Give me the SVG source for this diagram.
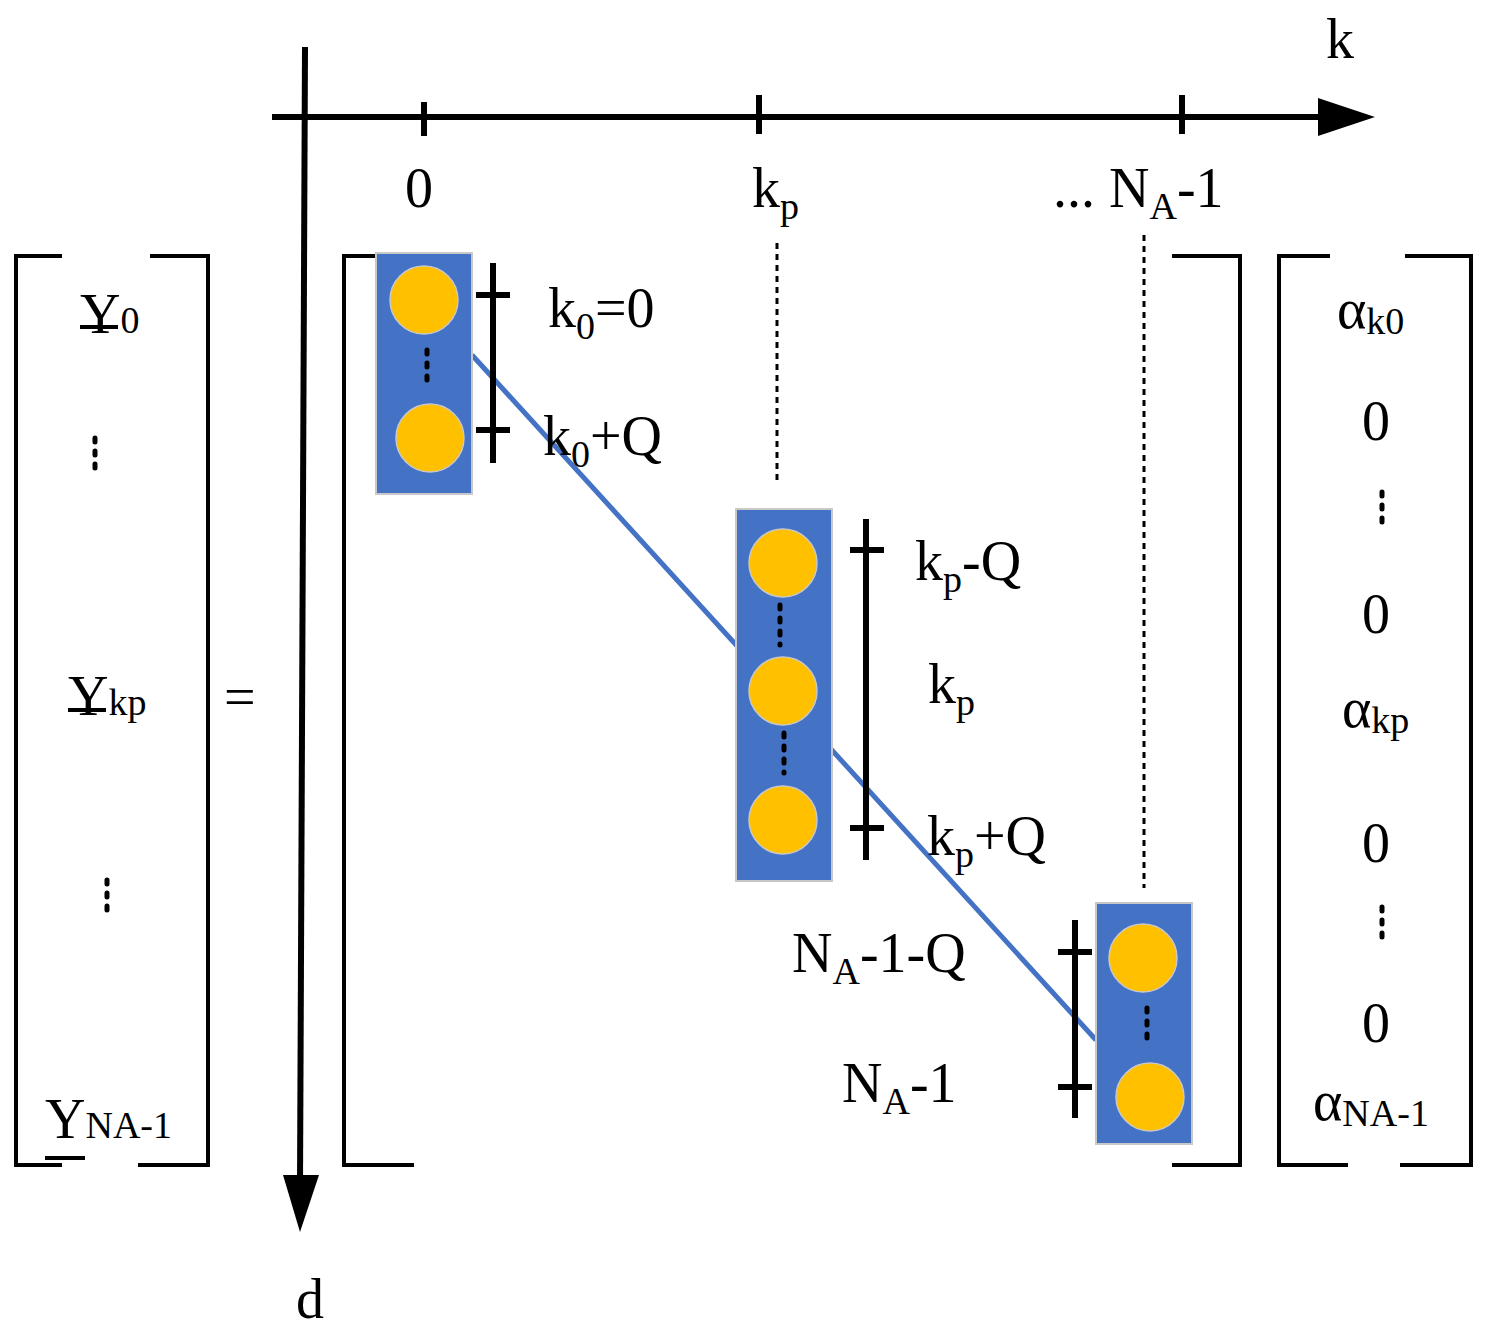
<svg xmlns="http://www.w3.org/2000/svg" width="1488" height="1335" viewBox="0 0 1488 1335">
<style>
text{font-family:"Liberation Serif","Times New Roman",serif;font-size:56px;fill:#000}
.s{font-size:38px}
.ln{stroke:#000;stroke-width:4;fill:none}
.ax{stroke:#000;stroke-width:6;fill:none}
.bar{stroke:#000;stroke-width:6}
.box{fill:#4472C4;stroke:#C8C8C8;stroke-width:2}
.c{fill:#FFC000;stroke:#C8C8C8;stroke-width:1.5}
.dot{stroke:#000;stroke-width:5;stroke-dasharray:4 9;stroke-linecap:round}
.dl{stroke:#000;stroke-width:3;stroke-dasharray:6 5}
</style>
<g id="axes">
<line class="ax" x1="272" y1="117" x2="1325" y2="117"/>
<polygon points="1318,98 1375,117 1318,136"/>
<line class="ax" x1="424" y1="102" x2="424" y2="136"/>
<line class="ax" x1="759" y1="95" x2="759" y2="134"/>
<line class="ax" x1="1182" y1="95" x2="1182" y2="134"/>
<line class="ax" x1="305" y1="47" x2="300" y2="1185"/>
<polygon points="283,1175 300,1232 319,1175"/>
<text x="1326" y="58">k</text>
<text x="405" y="207">0</text>
<text x="752" y="207">k<tspan class="s" dy="12">p</tspan></text>
<text x="1053" y="207">... N<tspan class="s" dy="12">A</tspan><tspan dy="-12">-1</tspan></text>
<text x="296" y="1318">d</text>
</g>
<g id="left-vector">
<path class="ln" d="M62,256H16V1165H62M150,256H208V1165H138"/>
<text x="80" y="333">Y<tspan class="s" dy="0">0</tspan></text>
<line class="ln" x1="80" y1="327" x2="118" y2="327"/>
<line class="dot" x1="95" y1="438" x2="95" y2="472"/>
<text x="68" y="715">Y<tspan class="s">kp</tspan></text>
<line class="ln" x1="68" y1="710" x2="106" y2="710"/>
<line class="dot" x1="107" y1="880" x2="107" y2="915"/>
<text x="45" y="1138">Y<tspan class="s">NA-1</tspan></text>
<line class="ln" x1="45" y1="1158" x2="85" y2="1158"/>
</g>
<g id="equals"><text x="224" y="716">=</text></g>
<g id="matrix">
<path class="ln" d="M414,256H344V1165H414M1172,256H1240V1165H1172"/>
<line class="dl" x1="777" y1="243" x2="777" y2="485"/>
<line class="dl" x1="1144" y1="235" x2="1144" y2="888"/>
</g>
<g id="connectors">
<line x1="472" y1="355" x2="1096" y2="1040" stroke="#4472C4" stroke-width="5"/>
</g>
<g id="block0">
<rect class="box" x="376" y="253" width="96" height="241"/>
<circle class="c" cx="424" cy="300" r="34"/>
<circle class="c" cx="430" cy="438" r="34"/>
<line class="dot" x1="427" y1="350" x2="427" y2="388"/>
<line class="bar" x1="493" y1="263" x2="493" y2="463"/>
<line class="bar" x1="476" y1="295" x2="510" y2="295"/>
<line class="bar" x1="476" y1="430" x2="510" y2="430"/>
<text x="548" y="327">k<tspan class="s" dy="12">0</tspan><tspan dy="-12">=0</tspan></text>
<text x="543" y="455">k<tspan class="s" dy="12">0</tspan><tspan dy="-12">+Q</tspan></text>
</g>
<g id="blockp">
<rect class="box" x="736" y="509" width="96" height="372"/>
<circle class="c" cx="783" cy="563" r="34"/>
<circle class="c" cx="783" cy="691" r="34"/>
<circle class="c" cx="783" cy="820" r="34"/>
<line class="dot" x1="780" y1="605" x2="780" y2="645"/>
<line class="dot" x1="784" y1="733" x2="784" y2="773"/>
<line class="bar" x1="866" y1="519" x2="866" y2="860"/>
<line class="bar" x1="850" y1="550" x2="884" y2="550"/>
<line class="bar" x1="850" y1="828" x2="884" y2="828"/>
<text x="915" y="580">k<tspan class="s" dy="12">p</tspan><tspan dy="-12">-Q</tspan></text>
<text x="928" y="703">k<tspan class="s" dy="12">p</tspan></text>
<text x="927" y="855">k<tspan class="s" dy="12">p</tspan><tspan dy="-12">+Q</tspan></text>
</g>
<g id="blockN">
<rect class="box" x="1096" y="903" width="96" height="241"/>
<circle class="c" cx="1143" cy="958" r="34"/>
<circle class="c" cx="1150" cy="1097" r="34"/>
<line class="dot" x1="1147" y1="1008" x2="1147" y2="1046"/>
<line class="bar" x1="1075" y1="920" x2="1075" y2="1118"/>
<line class="bar" x1="1058" y1="952" x2="1092" y2="952"/>
<line class="bar" x1="1058" y1="1087" x2="1092" y2="1087"/>
<text x="792" y="972">N<tspan class="s" dy="12">A</tspan><tspan dy="-12">-1-Q</tspan></text>
<text x="842" y="1102">N<tspan class="s" dy="12">A</tspan><tspan dy="-12">-1</tspan></text>
</g>
<g id="right-vector">
<path class="ln" d="M1330,256H1279V1165H1348M1405,256H1471V1165H1400"/>
<text x="1337" y="328">α<tspan class="s" dy="6">k0</tspan></text>
<text x="1362" y="440">0</text>
<line class="dot" x1="1382" y1="492" x2="1382" y2="528"/>
<text x="1362" y="633">0</text>
<text x="1342" y="727">α<tspan class="s" dy="6">kp</tspan></text>
<text x="1362" y="862">0</text>
<line class="dot" x1="1382" y1="907" x2="1382" y2="943"/>
<text x="1362" y="1042">0</text>
<text x="1313" y="1120">α<tspan class="s" dy="6">NA-1</tspan></text>
</g>
</svg>
